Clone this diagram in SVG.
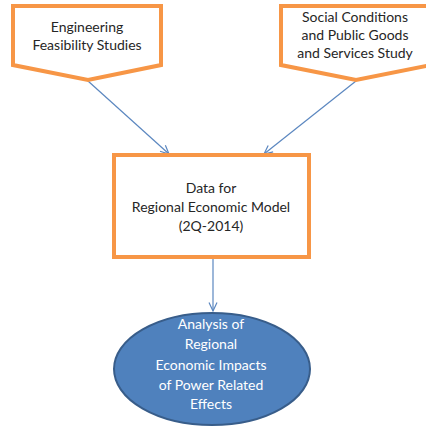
<svg xmlns="http://www.w3.org/2000/svg" width="426" height="427" viewBox="0 0 426 427">
<style>
.box{fill:#fff;stroke:#F79646;stroke-width:4;stroke-linejoin:miter}
.t{font-family:Lato,"Liberation Sans",sans-serif;font-size:14px;fill:#262626;text-anchor:middle}
.w{fill:#fff}
.c{stroke:#5B87C0;stroke-width:1.2;fill:none}
</style>
<defs>
<marker id="ah" viewBox="0 0 10 10" refX="9.5" refY="5" markerWidth="10" markerHeight="10" markerUnits="userSpaceOnUse" orient="auto">
<path d="M1,1 L9.5,5 L1,9" fill="none" stroke="#5B87C0" stroke-width="1.2"/>
</marker>
</defs>
<rect width="426" height="427" fill="#fff"/>
<g id="connectors">
<line class="c" x1="88" y1="81" x2="169" y2="154" marker-end="url(#ah)"/>
<line class="c" x1="356" y1="81" x2="264" y2="154" marker-end="url(#ah)"/>
<line class="c" x1="213" y1="258" x2="213" y2="311" marker-end="url(#ah)"/>
</g>
<g id="engineering">
<path class="box" d="M13,6 H161 V65 L88,80 L13,65 Z"/>
<text class="t" x="87" y="32">Engineering</text>
<text class="t" x="87" y="50">Feasibility Studies</text>
</g>
<g id="social">
<path class="box" d="M281,6 H431 V65 L356,80 L281,65 Z"/>
<text class="t" x="355" y="22">Social Conditions</text>
<text class="t" x="355" y="40">and Public Goods</text>
<text class="t" x="355" y="58">and Services Study</text>
</g>
<g id="data">
<rect class="box" x="114" y="155" width="195" height="102"/>
<text class="t" x="211" y="193">Data for</text>
<text class="t" x="211" y="212">Regional Economic Model</text>
<text class="t" x="211" y="231">(2Q-2014)</text>
</g>
<g id="analysis">
<ellipse cx="212" cy="369" rx="98" ry="56" fill="#4F81BD" stroke="#385D8A" stroke-width="2"/>
<text class="t w" x="211" y="329">Analysis of</text>
<text class="t w" x="211" y="349">Regional</text>
<text class="t w" x="211" y="370">Economic Impacts</text>
<text class="t w" x="211" y="390">of Power Related</text>
<text class="t w" x="211" y="409">Effects</text>
</g>
</svg>
